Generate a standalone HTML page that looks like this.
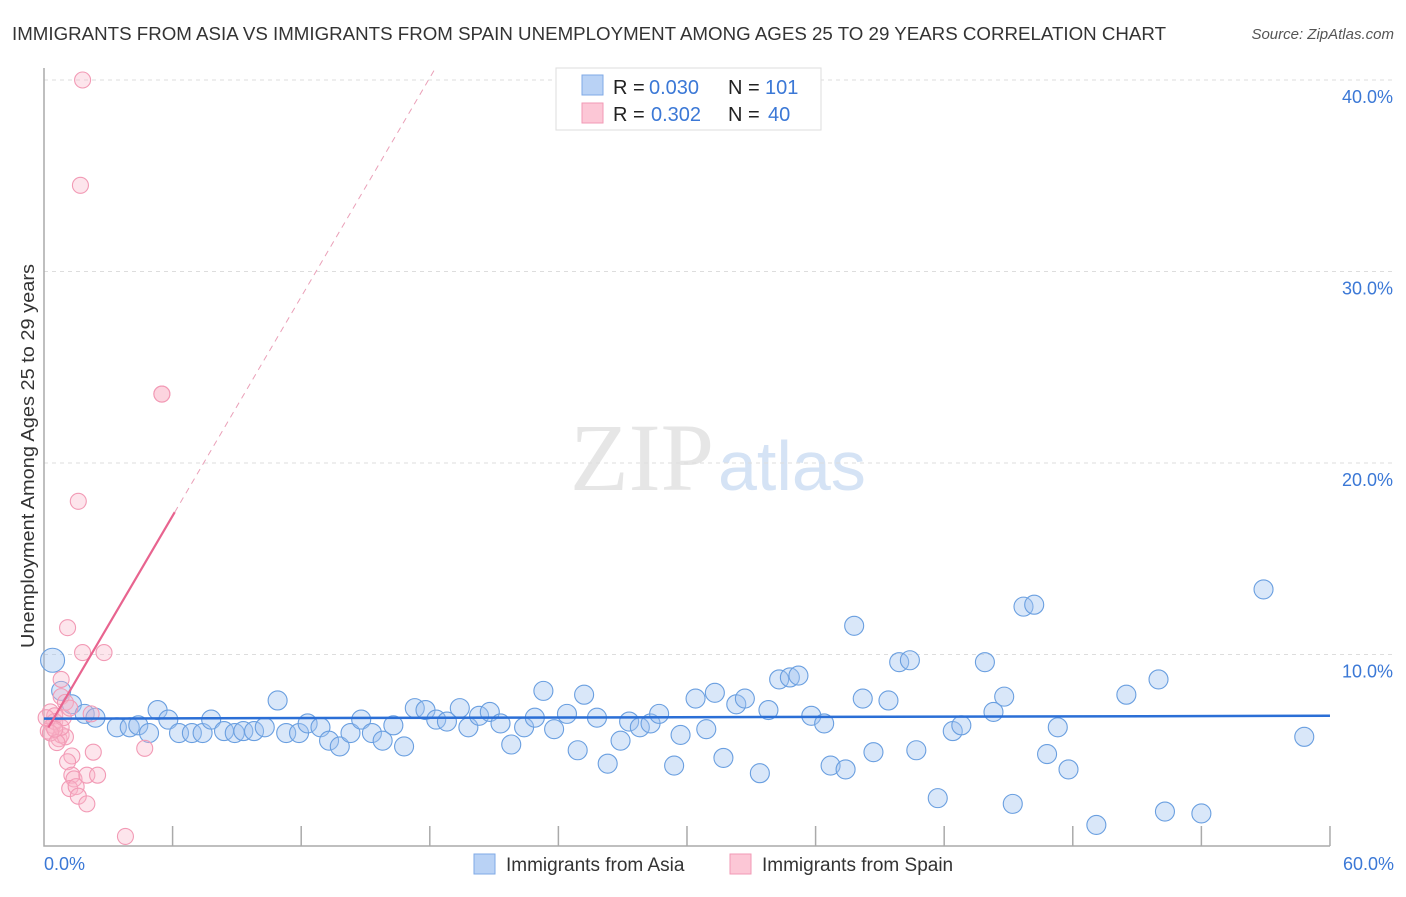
<!DOCTYPE html>
<html><head><meta charset="utf-8"><style>
body{margin:0;background:#fff;font-family:"Liberation Sans",sans-serif;}
</style></head><body>
<svg width="1406" height="892" xmlns="http://www.w3.org/2000/svg" id="chart">
<text x="12" y="40" font-size="18" fill="#333" textLength="1154" lengthAdjust="spacingAndGlyphs">IMMIGRANTS FROM ASIA VS IMMIGRANTS FROM SPAIN UNEMPLOYMENT AMONG AGES 25 TO 29 YEARS CORRELATION CHART</text>
<text x="1394" y="39" font-size="15" fill="#555" font-style="italic" text-anchor="end">Source: ZipAtlas.com</text>
<text x="714" y="490" font-size="96" fill="#e6e6e6" text-anchor="end" font-family="Liberation Serif">ZIP</text>
<text x="718" y="490" font-size="70" fill="#d5e3f5">atlas</text>
<g id="grid"></g><g id="axes"></g><g id="pts"></g><g id="trend"></g>
<text transform="translate(34,456) rotate(-90)" font-size="18" fill="#333" text-anchor="middle" textLength="384" lengthAdjust="spacingAndGlyphs">Unemployment Among Ages 25 to 29 years</text>
<text x="44" y="870" font-size="18" fill="#3b78d6">0.0%</text>
<text x="1394" y="870" font-size="18" fill="#3b78d6" text-anchor="end">60.0%</text>
<g font-size="20">
<rect x="556" y="68" width="265" height="62" fill="#fff" stroke="#ddd"/>
<rect x="582" y="75" width="21" height="20" fill="#b9d2f5" stroke="#7fa9e6"/>
<rect x="582" y="103" width="21" height="20" fill="#fcc7d6" stroke="#f29ab5"/>
<text x="613" y="94" fill="#222">R =</text><text x="649" y="94" fill="#3b78d6">0.030</text>
<text x="728" y="94" fill="#222">N =</text><text x="765" y="94" fill="#3b78d6">101</text>
<text x="613" y="121" fill="#222">R =</text><text x="651" y="121" fill="#3b78d6">0.302</text>
<text x="728" y="121" fill="#222">N =</text><text x="768" y="121" fill="#3b78d6">40</text>
</g>
<g>
<rect x="474" y="854" width="21" height="20" fill="#b9d2f5" stroke="#7fa9e6"/>
<text x="506" y="871" font-size="19" fill="#333">Immigrants from Asia</text>
<rect x="730" y="854" width="21" height="20" fill="#fcc7d6" stroke="#f29ab5"/>
<text x="762" y="871" font-size="19" fill="#333">Immigrants from Spain</text>
</g>
</svg>
<script>
const yTicks=[10,20,30,40];
const yTickLabels=["10.0%","20.0%","30.0%","40.0%"];
const asiaX=[0.4,0.8,1.3,1.9,2.4,3.4,4.0,4.4,4.9,5.3,5.8,6.3,6.9,7.4,7.8,8.4,8.9,9.3,9.8,10.3,10.9,11.3,11.9,12.3,12.9,13.3,13.8,14.3,14.8,15.3,15.8,16.3,16.8,17.3,17.8,18.3,18.8,19.4,19.8,20.3,20.8,21.3,21.8,22.4,22.9,23.3,23.8,24.4,24.9,25.2,25.8,26.3,26.9,27.3,27.8,28.3,28.7,29.4,29.7,30.4,30.9,31.3,31.7,32.3,32.7,33.4,33.8,34.3,34.8,35.2,35.8,36.4,36.7,37.4,37.8,38.2,38.7,39.4,39.9,40.4,40.7,41.7,42.4,42.8,43.9,44.3,44.8,45.2,45.7,46.2,46.8,47.3,47.8,49.1,50.5,52.0,52.3,54.0,56.9,58.8];
const asiaY=[9.7,8.1,7.4,6.9,6.7,6.2,6.2,6.3,5.9,7.1,6.6,5.9,5.9,5.9,6.6,6.0,5.9,6.0,6.0,6.2,7.6,5.9,5.9,6.4,6.2,5.5,5.2,5.9,6.6,5.9,5.5,6.3,5.2,7.2,7.1,6.6,6.5,7.2,6.2,6.8,7.0,6.4,5.3,6.2,6.7,8.1,6.1,6.9,5.0,7.9,6.7,4.3,5.5,6.5,6.2,6.4,6.9,4.2,5.8,7.7,6.1,8.0,4.6,7.4,7.7,3.8,7.1,8.7,8.8,8.9,6.8,6.4,4.2,4.0,11.5,7.7,4.9,7.6,9.6,9.7,5.0,2.5,6.0,6.3,9.6,7.0,7.8,2.2,12.5,12.6,4.8,6.2,4.0,1.1,7.9,8.7,1.8,1.7,13.4,5.7];
const spainX=[1.8,1.7,5.5,5.5,1.6,1.1,1.8,2.8,0.8,0.8,1.0,2.2,0.3,0.5,0.4,0.2,0.7,0.8,1.0,2.3,1.3,1.1,1.3,1.4,2.0,2.5,1.2,1.5,1.6,2.0,4.7,3.8,0.5,0.8,0.3,0.6,0.9,1.2,0.5,0.1];
const spainY=[40.0,34.5,23.6,23.6,18.0,11.4,10.1,10.1,8.7,7.8,7.5,6.9,7.0,6.8,6.3,6.0,5.6,5.8,5.7,4.9,4.7,4.4,3.7,3.5,3.7,3.7,3.0,3.1,2.6,2.2,5.1,0.5,6.5,6.2,5.9,5.4,6.7,7.2,6.1,6.7];
const asiaTrend=[6.65,6.8];
const spainTrend=[5.8,40.5];
const X=v=>44+v*21.433, Y=v=>846-v*19.15;
const NS="http://www.w3.org/2000/svg";
function mk(p,t,a){const e=document.createElementNS(NS,t);for(const k in a)e.setAttribute(k,a[k]);document.getElementById(p).appendChild(e);return e;}
yTicks.forEach((t,i)=>{
 const l=mk('grid','line',{x1:44,x2:1394,y1:Y(t),y2:Y(t),stroke:'#ddd','stroke-dasharray':'4,4'});
 
 
 const tx=mk('grid','text',{x:1393,y:Y(t)+23,'font-size':18,fill:'#3b78d6','text-anchor':'end'});
 tx.textContent=yTickLabels[i];
 
 
});
const ax=mk('axes','path',{d:'M44,68V846H1330',fill:'none',stroke:'#aaa','stroke-width':1.5});


for(let i=1;i<=10;i++){const t=mk('axes','line',{x1:X(i*6),x2:X(i*6),y1:826,y2:846,stroke:'#aaa','stroke-width':1.5});
 
 }
asiaX.forEach((v,i)=>{const c=mk('pts','circle',{cx:X(v),cy:Y(asiaY[i]),r:i==0?12:9.5,fill:'rgba(160,196,240,0.4)',stroke:'#6a9fe0','stroke-width':1.1});
 
 });
spainX.forEach((v,i)=>{const c=mk('pts','circle',{cx:X(v),cy:Y(spainY[i]),r:8,fill:'rgba(248,180,200,0.35)',stroke:'#f29ab5','stroke-width':1.1});
 
 });
const at=mk('trend','line',{x1:X(0),y1:Y(asiaTrend[0]),x2:X(60),y2:Y(asiaTrend[1]),stroke:'#2b6fd6','stroke-width':2.5});


const sl=(spainTrend[1]-spainTrend[0])/18.2;
const s1=mk('trend','line',{x1:X(0.2),y1:Y(spainTrend[0]+sl*0.2),x2:X(6.1),y2:Y(spainTrend[0]+sl*6.1),stroke:'#e8648f','stroke-width':2.2});


const s2=mk('trend','line',{x1:X(6.1),y1:Y(spainTrend[0]+sl*6.1),x2:X(18.2),y2:Y(spainTrend[1]),stroke:'#eaa0b8','stroke-width':1,'stroke-dasharray':'6,5'});


</script>
</body></html>
